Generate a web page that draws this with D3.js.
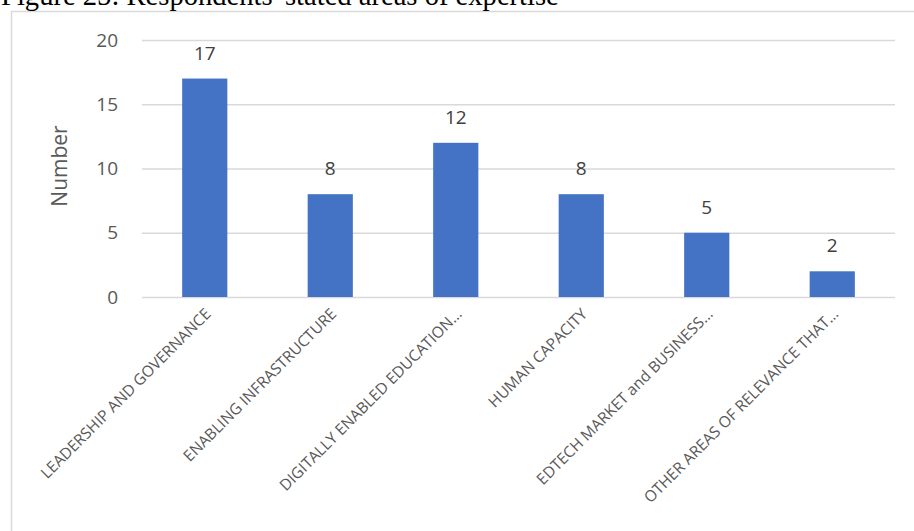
<!DOCTYPE html>
<html>
<head>
<meta charset="utf-8">
<script src="https://cdn.jsdelivr.net/npm/d3@7"></script>
<style>
  body { margin: 0; background: #fff; }
  svg { display: block; }
</style>
</head>
<body>
<script>
(function() {
    var width = 914, height = 531;

    var categories = [
        "LEADERSHIP AND GOVERNANCE",
        "ENABLING INFRASTRUCTURE",
        "DIGITALLY ENABLED EDUCATION…",
        "HUMAN CAPACITY",
        "EDTECH MARKET and BUSINESS…",
        "OTHER AREAS OF RELEVANCE THAT…"
    ];
    var counts = [17, 8, 12, 8, 5, 2];
    var yTicks = [0, 5, 10, 15, 20];

    var data = categories.map((c, i) => ({ name: c, value: counts[i] }));

    var svg = d3.select("body")
        .append("svg")
        .attr("width", width)
        .attr("height", height);

    // chart frame (only top and left edges are visible in the crop)
    svg.append("rect")
        .attr("x", 11.5)
        .attr("y", 11.5)
        .attr("width", width + 20)
        .attr("height", height + 20)
        .attr("fill", "none")
        .attr("stroke", "#d9d9d9")
        .attr("stroke-width", 1.5);

    svg.append("text")
        .attr("x", 1)
        .attr("y", 5)
        .attr("font-family", "'Liberation Serif', 'Times New Roman', serif")
        .attr("font-size", 28.6)
        .attr("fill", "#000")
        .text("Figure 25: Respondents' stated areas of expertise");

    var xScale = d3.scaleBand()
        .domain(categories)
        .range([142, 895])
        .paddingInner(0.64)
        .paddingOuter(0.32);

    var yScale = d3.scaleLinear()
        .domain([0, 20])
        .range([297, 40]);

    var font = "'Open Sans', sans-serif";

    var yAxis = d3.axisLeft(yScale)
        .tickValues(yTicks)
        .tickSize(-(895 - 142))
        .tickPadding(24);

    var yG = svg.append("g")
        .attr("transform", "translate(142,0)")
        .call(yAxis);
    yG.select(".domain").remove();
    yG.selectAll(".tick line")
        .attr("stroke", "#d9d9d9")
        .attr("stroke-width", 1.5);
    yG.selectAll(".tick text")
        .attr("font-family", font)
        .attr("font-size", 19)
        .attr("fill", "#595959");

    svg.append("text")
        .attr("transform", "translate(67,166) rotate(-90)")
        .attr("text-anchor", "middle")
        .attr("font-family", font)
        .attr("font-size", 21)
        .attr("fill", "#595959")
        .text("Number");

    svg.selectAll(".bar")
        .data(data)
        .enter()
        .append("rect")
        .attr("class", "bar")
        .attr("x", d => xScale(d.name))
        .attr("y", d => yScale(d.value))
        .attr("width", xScale.bandwidth())
        .attr("height", d => yScale(0) - yScale(d.value))
        .attr("fill", "#4472c4");

    svg.selectAll(".value-label")
        .data(data)
        .enter()
        .append("text")
        .attr("class", "value-label")
        .attr("x", d => xScale(d.name) + xScale.bandwidth() / 2)
        .attr("y", d => yScale(d.value) - 19)
        .attr("text-anchor", "middle")
        .attr("font-family", font)
        .attr("font-size", 19)
        .attr("fill", "#404040")
        .text(d => d.value);

    var xAxis = d3.axisBottom(xScale).tickSize(0).tickPadding(0);
    var xG = svg.append("g")
        .attr("transform", "translate(0,297)")
        .call(xAxis);
    xG.select(".domain").remove();
    xG.selectAll(".tick text")
        .attr("font-family", font)
        .attr("font-size", 15.5)
        .attr("fill", "#595959")
        .attr("text-anchor", "end")
        .attr("dy", null)
        .attr("y", 0)
        .attr("transform", "translate(7,18) rotate(-45)");
})();
</script>
</body>
</html>
